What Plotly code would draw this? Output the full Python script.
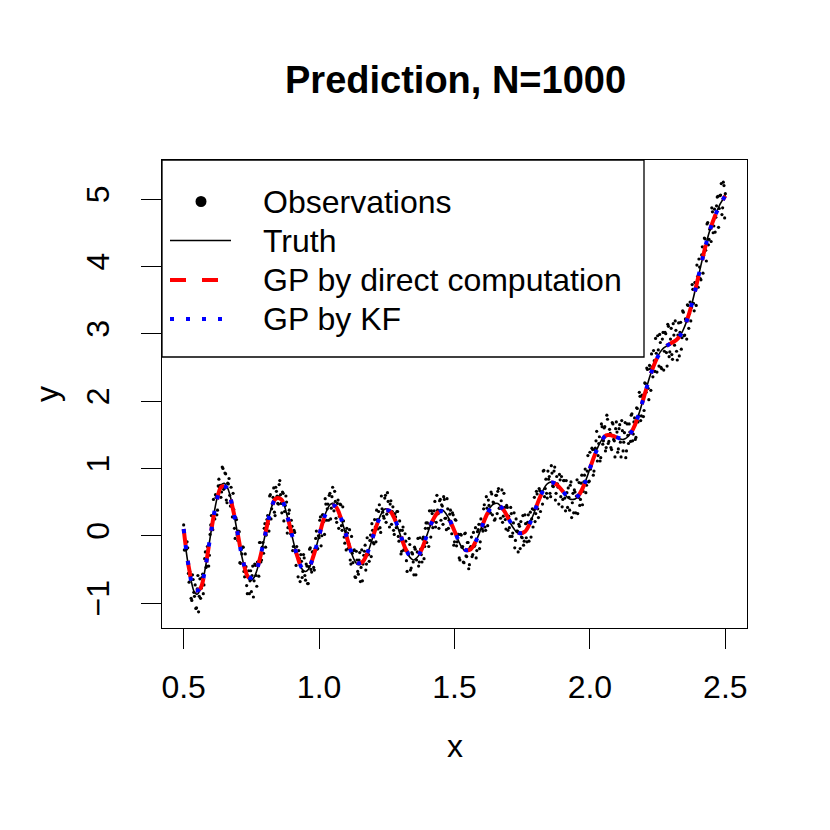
import numpy as np
import plotly.graph_objects as go

# ---------------- data ----------------
x_range = [0.5, 2.5]

# observations on the grid 0.500, 0.505, ..., 2.500
y_obs_a = [
    0.16,-0.21,-0.20,-0.18,-0.69,-0.60,-0.96,-0.65,-0.90,-1.08,-0.79,-1.13,-0.64,-0.78,-0.57,-0.73,-0.24,-0.45,-0.22,-0.29,
    0.16,0.11,0.54,0.25,0.57,0.38,0.84,0.75,0.65,1.00,0.71,0.92,0.49,0.77,0.60,0.72,0.28,0.39,-0.04,0.24,
    -0.07,0.06,-0.41,-0.27,-0.17,-0.61,-0.46,-0.86,-0.52,-0.67,-0.83,-0.45,-0.67,-0.44,-0.75,-0.39,-0.10,-0.39,-0.17,-0.26,
    0.18,0.01,0.30,0.07,0.61,0.40,0.57,0.35,0.72,0.59,0.47,0.82,0.48,0.65,0.22,0.45,0.50,0.12,0.38,0.03,
    0.14,-0.16,0.05,-0.44,-0.29,-0.22,-0.68,-0.38,-0.53,-0.33,-0.66,-0.45,-0.71,-0.20,-0.50,-0.24,-0.47,-0.19,0.07,-0.19,
    -0.03,0.28,0.00,0.31,0.02,0.47,0.40,0.23,0.63,0.41,0.72,0.37,0.51,0.20,0.53,0.29,0.46,0.08,0.22,-0.11,
    -0.21,0.04,-0.12,-0.36,-0.01,-0.40,-0.21,-0.62,-0.36,-0.57,-0.25,-0.47,-0.67,-0.29,-0.14,-0.42,-0.22,-0.38,0.01,0.18,
    -0.10,0.24,-0.09,0.24,0.36,0.12,0.59,0.35,0.26,0.60,0.32,0.51,0.13,0.52,0.36,0.08,0.33,0.12,0.36,-0.08,
    0.08,-0.23,0.13,-0.21,-0.08,-0.53,-0.28,-0.13,-0.48,-0.27,-0.58,-0.20,-0.36,-0.04,-0.39,-0.20,-0.39,-0.02,-0.16,0.19,
    0.19,-0.16,0.17,0.37,0.12,0.37,0.13,0.60,0.33,0.52,0.23,0.44,0.58,0.26,0.09,0.40,0.23,0.38,0.03,0.31,
    -0.09,0.23,-0.09,0.02,-0.36,0.01,-0.16,-0.40,0.04,-0.31,-0.10,-0.43,-0.16,-0.31,0.05,-0.14,-0.33,0.06,0.17,-0.09,
    0.17,0.07,0.46,0.08,0.41,0.53,0.34,0.65,0.31,0.49,0.25,0.60,0.66,0.41,0.26,0.68,0.29,0.42,0.10,0.42,
    0.29,-0.01,0.33,0.04,0.34,-0.07,0.07,-0.24,0.14,0.21,-0.03,-0.14,0.31,-0.03,0.20,-0.08,0.35,0.25,0.13,0.57,
    0.33,0.62,0.27,0.67,0.65,0.47,0.97,0.70,0.63,0.96,0.88,0.58,0.93,0.73,1.02,0.63,0.77,0.47,0.83,0.88,
    0.54,0.82,0.37,0.64,0.71,0.38,0.80,0.49,0.34,0.65,0.59,0.33,0.79,0.54,0.90,0.66,0.90,0.64,0.96,0.80,
    1.24,1.04,1.28,0.96,1.30,1.55,1.19,1.47,1.16,1.62,1.41,1.62,1.31,1.73,1.40,1.52,1.28,1.66,1.41,1.59,
    1.54,1.29,1.65,1.17,1.56,1.39,1.68,1.26,1.49,1.66,1.40,1.81,1.51,1.75,1.46,1.89,1.78,2.07,1.78,2.06,
    1.86,2.26,2.49,2.19,2.53,2.16,2.51,2.75,2.44,2.71,2.97,2.52,2.87,2.48,3.02,2.74,3.00,2.52,3.11,2.73,
    3.08,2.62,2.98,3.19,2.74,2.98,2.67,3.17,2.94,3.32,2.98,3.19,3.43,3.08,3.47,3.39,3.66,3.34,3.76,4.02,
    3.69,3.99,3.80,4.29,4.16,4.41,4.08,4.65,4.40,4.57,4.87,4.50,4.85,4.73,5.03,4.58,5.05,5.23,4.87,5.20,5.08,
]
# observations on the in-between grid 0.5025, 0.5075, ..., 2.4975
y_obs_b = [
    -0.21,-0.09,-0.09,-0.56,-0.53,-0.93,-0.58,-0.84,-0.73,-1.07,-0.59,-0.90,-0.93,-0.62,-0.86,-0.34,-0.47,-0.16,-0.45,0.02,
    0.30,0.09,0.32,0.61,0.31,0.74,0.72,0.57,1.02,0.69,0.93,0.53,0.78,0.85,0.44,0.48,0.63,0.11,0.27,0.01,
    0.07,-0.40,-0.20,-0.17,-0.53,-0.27,-0.74,-0.60,-0.86,-0.52,-0.59,-0.91,-0.42,-0.59,-0.39,-0.60,-0.10,-0.36,-0.10,0.11,
    -0.17,0.24,0.18,0.59,0.25,0.47,0.71,0.30,0.66,0.48,0.76,0.61,0.34,0.63,0.36,0.59,0.04,0.33,0.11,0.23,
    -0.22,0.08,-0.24,-0.16,-0.61,-0.34,-0.28,-0.62,-0.28,-0.59,-0.42,-0.71,-0.46,-0.18,-0.54,-0.24,-0.51,-0.04,-0.20,0.00,
    0.23,-0.15,0.31,0.21,0.55,0.23,0.47,0.60,0.25,0.58,0.47,0.66,0.26,0.48,0.11,0.47,0.15,0.43,-0.02,0.07,
    0.11,-0.19,0.09,-0.42,-0.26,-0.22,-0.61,-0.23,-0.53,-0.36,-0.68,-0.21,-0.42,-0.23,-0.51,-0.03,-0.28,-0.07,-0.31,0.08,
    -0.12,0.13,0.38,0.10,0.46,0.05,0.40,0.29,0.56,0.20,0.64,0.36,0.47,0.17,0.43,0.02,0.28,0.36,-0.01,0.22,
    -0.27,0.08,-0.21,0.03,-0.37,-0.24,-0.04,-0.51,-0.25,-0.39,-0.17,-0.58,-0.24,-0.45,-0.03,-0.28,-0.05,-0.34,0.11,-0.10,
    0.11,0.37,-0.02,0.33,0.22,0.51,0.20,0.38,0.11,0.54,0.46,0.17,0.54,0.26,0.55,0.11,0.32,0.16,0.34,-0.14,
    0.24,-0.15,0.02,-0.33,0.02,-0.17,-0.39,0.03,-0.30,-0.10,-0.49,-0.18,-0.02,-0.28,-0.16,0.12,-0.22,0.09,-0.19,0.25,
    0.10,0.40,0.13,0.58,0.15,0.45,0.34,0.62,0.50,0.23,0.60,0.33,0.70,0.41,0.52,0.20,0.63,0.24,0.45,0.08,
    0.12,0.42,-0.01,0.19,-0.18,0.25,0.07,0.17,-0.19,-0.02,0.30,-0.08,0.18,-0.09,0.31,0.18,-0.02,0.40,0.39,0.21,
    0.66,0.40,0.70,0.36,0.65,0.96,0.58,0.84,0.56,0.84,0.63,1.04,0.74,0.96,0.53,0.88,0.72,0.91,0.58,0.43,
    0.82,0.56,0.82,0.42,0.57,0.75,0.27,0.63,0.68,0.34,0.83,0.57,0.45,0.78,0.46,0.80,0.99,0.75,1.19,0.81,
    0.99,1.30,0.90,1.28,1.41,1.11,1.37,1.11,1.66,1.36,1.60,1.26,1.79,1.37,1.58,1.31,1.68,1.43,1.17,1.69,
    1.24,1.59,1.39,1.71,1.26,1.53,1.16,1.66,1.37,1.54,1.79,1.41,1.69,1.43,1.90,1.69,2.13,1.71,2.09,1.77,
    2.27,2.13,2.47,2.02,2.48,2.70,2.36,2.60,2.93,2.43,2.76,2.99,2.50,2.92,2.46,3.02,2.72,3.14,2.66,2.92,
    2.69,3.15,2.83,3.05,2.61,3.16,3.02,2.77,3.34,2.97,3.22,2.92,3.42,3.30,3.19,3.73,3.45,3.76,3.42,3.85,
    4.11,3.82,4.17,3.90,4.42,4.24,4.63,4.32,4.55,4.37,4.81,4.60,4.51,4.90,5.04,4.86,5.06,4.77,5.25,4.72,
]

# true function, step 0.01 over [0.5, 2.5]
y_truth = [
    0.06,-0.25,-0.51,-0.71,-0.84,-0.87,-0.81,-0.68,-0.48,-0.23,0.03,0.28,0.50,0.66,0.76,0.78,0.73,0.62,0.44,0.23,0.01,
    -0.21,-0.40,-0.55,-0.64,-0.66,-0.62,-0.52,-0.37,-0.19,0.00,0.19,0.36,0.49,0.57,0.59,0.55,0.47,0.33,0.17,0.00,
    -0.17,-0.32,-0.44,-0.51,-0.53,-0.50,-0.42,-0.30,-0.16,0.00,0.15,0.29,0.39,0.46,0.48,0.45,0.38,0.27,0.14,0.00,
    -0.14,-0.26,-0.36,-0.42,-0.43,-0.41,-0.35,-0.25,-0.13,0.00,0.13,0.24,0.33,0.39,0.40,0.38,0.32,0.24,0.13,0.01,
    -0.11,-0.21,-0.29,-0.34,-0.36,-0.33,-0.28,-0.19,-0.09,0.03,0.14,0.24,0.32,0.37,0.39,0.37,0.32,0.25,0.16,0.06,
    -0.03,-0.12,-0.19,-0.22,-0.23,-0.21,-0.15,-0.07,0.02,0.13,0.23,0.33,0.41,0.46,0.48,0.48,0.44,0.39,0.32,0.24,
    0.16,0.10,0.05,0.03,0.03,0.06,0.12,0.21,0.30,0.41,0.52,0.61,0.70,0.76,0.79,0.80,0.79,0.76,0.71,0.66,
    0.60,0.56,0.54,0.54,0.56,0.61,0.68,0.77,0.88,1.00,1.12,1.23,1.32,1.40,1.46,1.49,1.51,1.50,1.49,1.46,
    1.44,1.43,1.44,1.47,1.52,1.59,1.69,1.80,1.93,2.07,2.21,2.35,2.47,2.58,2.66,2.73,2.78,2.81,2.84,2.86,
    2.88,2.91,2.96,3.02,3.11,3.22,3.35,3.50,3.67,3.84,4.02,4.19,4.35,4.50,4.62,4.74,4.83,4.92,4.99,5.06,
]

# GP posterior mean by direct computation, step 0.02 over [0.5, 2.5]
gp_direct = [
    0.10,-0.49,-0.81,-0.79,-0.47,0.03,0.48,0.73,0.71,0.43,0.02,
    -0.39,-0.62,-0.60,-0.36,0.00,0.35,0.55,0.54,0.33,0.01,
    -0.31,-0.49,-0.48,-0.29,0.00,0.28,0.44,0.44,0.27,0.01,
    -0.25,-0.40,-0.39,-0.24,0.00,0.23,0.37,0.37,0.24,0.02,
    -0.20,-0.32,-0.32,-0.19,0.03,0.23,0.35,0.36,0.25,0.07,
    -0.11,-0.21,-0.20,-0.07,0.12,0.32,0.44,0.46,0.39,0.25,
    0.11,0.04,0.06,0.20,0.41,0.61,0.75,0.79,0.75,0.66,
    0.57,0.55,0.61,0.77,1.00,1.22,1.39,1.49,1.49,1.46,
    1.44,1.47,1.59,1.80,2.07,2.34,2.57,2.72,2.81,2.86,
    2.91,3.02,3.22,3.50,3.84,4.19,4.50,4.73,4.91,5.05,
]
# GP by Kalman filter: visually identical to the direct computation
gp_kf = list(gp_direct)

x_ticks = [0.5, 1.0, 1.5, 2.0, 2.5]
x_ticklabels = ["0.5", "1.0", "1.5", "2.0", "2.5"]
y_ticks = [-1, 0, 1, 2, 3, 4, 5]
y_ticklabels = ["\u22121", "0", "1", "2", "3", "4", "5"]

title = "Prediction, N=1000"
legend_labels = ["Observations", "Truth", "GP by direct computation", "GP by KF"]

# ---------------- figure ----------------
half = (x_range[1] - x_range[0]) / (len(y_obs_a) - 1) / 2
x_obs = np.concatenate([np.linspace(x_range[0], x_range[1], len(y_obs_a)),
                        np.linspace(x_range[0] + half, x_range[1] - half, len(y_obs_b))])
y_obs = list(y_obs_a) + list(y_obs_b)
x_truth = np.linspace(x_range[0], x_range[1], len(y_truth))
x_gp = np.linspace(x_range[0], x_range[1], len(gp_direct))

FONT = "Liberation Sans, Arial, Helvetica, sans-serif"
OFF = 8  # page body margin
W, H = 822, 822
L, T = 162 - OFF, 160 - OFF
pw, ph = 585, 468
R, B = W - L - pw, H - T - ph

fig = go.Figure()
fig.add_trace(go.Scatter(x=x_obs, y=y_obs, mode="markers",
                         marker=dict(color="black", size=3.2, line=dict(width=0)),
                         showlegend=False))
fig.add_trace(go.Scatter(x=x_truth, y=y_truth, mode="lines",
                         line=dict(color="black", width=1.6, shape="spline"),
                         showlegend=False))
fig.add_trace(go.Scatter(x=x_gp, y=gp_direct, mode="lines",
                         line=dict(color="#FF0000", width=4, dash="16px,16px", shape="spline"),
                         showlegend=False))
fig.add_trace(go.Scatter(x=x_gp, y=gp_kf, mode="lines",
                         line=dict(color="#0000FF", width=4, dash="4px,12px", shape="spline"),
                         showlegend=False))


def px_x(p):
    # page pixel -> paper x
    return (p - OFF - L) / pw


def px_y(p):
    # page pixel -> paper y
    return (T + ph - (p - OFF)) / ph


shapes = []
annotations = []
# legend box
shapes.append(dict(type="rect", xref="paper", yref="paper",
                   x0=px_x(162), x1=px_x(644), y0=px_y(357), y1=px_y(160),
                   line=dict(color="black", width=1.3), fillcolor="white", layer="above"))
rows = [201.5, 240.5, 280, 319]
r = 5.5
shapes.append(dict(type="circle", xref="paper", yref="paper",
                   x0=px_x(201 - r), x1=px_x(201 + r), y0=px_y(rows[0] + r), y1=px_y(rows[0] - r),
                   fillcolor="black", line=dict(color="black", width=0), layer="above"))
shapes.append(dict(type="line", xref="paper", yref="paper",
                   x0=px_x(170), x1=px_x(231), y0=px_y(rows[1]), y1=px_y(rows[1]),
                   line=dict(color="black", width=1.6), layer="above"))
shapes.append(dict(type="line", xref="paper", yref="paper",
                   x0=px_x(170), x1=px_x(231), y0=px_y(rows[2]), y1=px_y(rows[2]),
                   line=dict(color="#FF0000", width=4, dash="16px,16px"), layer="above"))
shapes.append(dict(type="line", xref="paper", yref="paper",
                   x0=px_x(170), x1=px_x(231), y0=px_y(rows[3]), y1=px_y(rows[3]),
                   line=dict(color="#0000FF", width=4, dash="4px,12px"), layer="above"))
for lab, ry in zip(legend_labels, rows):
    annotations.append(dict(text=lab, xref="paper", yref="paper", x=px_x(261), y=px_y(ry),
                            xanchor="left", yanchor="middle", showarrow=False,
                            font=dict(family=FONT, size=32, color="black")))
annotations.append(dict(text="<b>" + title + "</b>", xref="paper", yref="paper",
                        x=px_x(455), y=px_y(80), xanchor="center", yanchor="middle",
                        showarrow=False, font=dict(family=FONT, size=38, color="black")))
annotations.append(dict(text="x", xref="paper", yref="paper",
                        x=px_x(455), y=px_y(746), xanchor="center", yanchor="middle",
                        showarrow=False, font=dict(family=FONT, size=32, color="black")))
annotations.append(dict(text="y", xref="paper", yref="paper",
                        x=px_x(47), y=px_y(394), xanchor="center", yanchor="middle",
                        textangle=-90, showarrow=False,
                        font=dict(family=FONT, size=32, color="black")))

fig.update_layout(
    width=W, height=H,
    margin=dict(l=L, r=R, t=T, b=B, pad=0),
    paper_bgcolor="white", plot_bgcolor="white",
    font=dict(family=FONT, size=32, color="black"),
    shapes=shapes, annotations=annotations,
    showlegend=False,
)
fig.update_xaxes(range=[0.42, 2.58], showgrid=False, zeroline=False,
                 showline=True, mirror=True, linecolor="black", linewidth=1.3,
                 ticks="outside", ticklen=20, tickwidth=1.3, tickcolor="black",
                 tickvals=x_ticks, ticktext=x_ticklabels, ticklabelstandoff=10,
                 tickfont=dict(family=FONT, size=32, color="black"))
fig.update_yaxes(range=[-1.37, 5.58], showgrid=False, zeroline=False,
                 showline=True, mirror=True, linecolor="black", linewidth=1.3,
                 ticks="outside", ticklen=20, tickwidth=1.3, tickcolor="black",
                 tickvals=y_ticks, ticktext=y_ticklabels, tickangle=-90, ticklabelstandoff=19,
                 tickfont=dict(family=FONT, size=32, color="black"))

fig.write_html("out.html")
